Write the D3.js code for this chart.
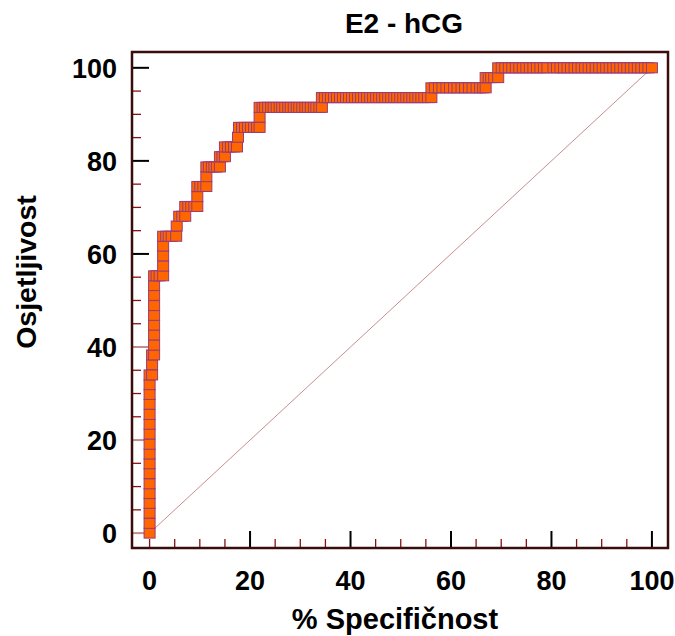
<!DOCTYPE html>
<html>
<head>
<meta charset="utf-8">
<script src="https://cdn.jsdelivr.net/npm/d3@7"></script>
<style>
  html, body { margin: 0; padding: 0; background: #fff; }
  svg { display: block; }
  text { font-family: "Liberation Sans", Arial, sans-serif; font-weight: bold; fill: #000; }
</style>
</head>
<body>
<svg id="chart" width="675" height="636"></svg>
<script>
// ---------------- data ----------------
const title = "E2 - hCG";
const xTitle = "% Specifičnost";
const yTitle = "Osjetljivost";

// sensitivity levels (%) of the ROC curve, bottom to top
const sensLevels = [
  0, 2.1, 4.3, 6.4, 8.5, 10.6, 12.8, 14.9, 17.0, 19.1, 21.3, 23.4, 25.5, 27.7, 29.8, 31.9,
  34.0, 36.2, 38.3, 40.4, 42.6, 44.7, 46.8, 48.9, 51.1, 53.2, 55.3, 57.4, 59.6, 61.7, 63.8,
  66.0, 68.1, 70.2, 72.3, 74.5, 76.6, 78.7, 80.9, 83.0, 85.1, 87.2, 89.4, 91.5, 93.6, 95.7,
  97.9, 100
];

// x positions (100 - specificity, %) of the ROC points at each sensitivity level
const xAtLevel = [
  [0], [0], [0], [0], [0], [0], [0], [0], [0], [0], [0], [0], [0], [0], [0], [0],
  [0, 0.5], [0.5], [0.5, 0.9], [0.9], [0.9], [0.9], [0.9], [0.9], [0.9], [0.9],
  [0.9, 1.4, 2.0, 2.7], [2.7], [2.7], [2.7],
  [2.7, 3.3, 3.8, 4.4, 5.3],
  [5.4],
  [5.9, 6.5, 7.1],
  [7.1, 7.7, 8.3, 8.9, 9.5],
  [9.5],
  [9.5, 10.1, 10.7, 11.3],
  [11.3],
  [11.3, 11.8, 12.4, 12.9, 13.4, 14.0],
  [14.0, 14.5, 15.0],
  [15.0, 15.6, 16.2, 16.8, 17.4],
  [17.6],
  [17.8, 18.4, 19.0, 19.6, 20.2, 20.8, 21.4, 21.9],
  [21.9],
  [21.9, 22.5, 23.0, 23.6, 24.2, 24.7, 25.3, 25.9, 26.4, 27.0, 27.6, 28.1, 28.7, 29.3, 29.8,
   30.4, 31.0, 31.5, 32.1, 32.7, 33.2, 33.8, 34.3],
  [34.3, 34.9, 35.5, 36.1, 36.7, 37.3, 37.9, 38.5, 39.1, 39.7, 40.3, 40.9, 41.5, 42.1, 42.7,
   43.3, 43.9, 44.5, 45.1, 45.7, 46.3, 46.9, 47.5, 48.1, 48.7, 49.3, 49.9, 50.5, 51.1, 51.7,
   52.3, 52.9, 53.5, 54.1, 54.7, 55.4, 56.1],
  [56.1, 56.8, 57.6, 58.3, 59.1, 59.8, 60.6, 61.3, 62.1, 62.8, 63.6, 64.3, 65.1, 65.8, 66.4, 66.9],
  [66.9, 67.5, 68.0, 68.6, 69.4],
  [69.4, 70.1, 70.8, 71.5, 72.2, 72.9, 73.6, 74.3, 75.0, 75.7, 76.4, 77.1, 77.8, 78.5, 79.2,
   80.4, 81.1, 81.8, 82.5, 83.2, 83.9, 84.6, 85.3, 86.0, 86.7, 87.4, 88.1, 88.8, 89.5, 90.2,
   90.9, 91.6, 92.3, 93.0, 93.7, 94.4, 95.1, 95.8, 96.5, 97.2, 97.9, 98.6, 99.3, 100.0]
];

// reference (chance) line
const diagX = [0, 100];
const diagY = [0, 100];

const majorTicks = [0, 20, 40, 60, 80, 100];
const minorTicks = [5, 10, 15, 25, 30, 35, 45, 50, 55, 65, 70, 75, 85, 90, 95];
const xTickLabels = ["0", "20", "40", "60", "80", "100"];
const yTickLabels = ["0", "20", "40", "60", "80", "100"];

// ---------------- drawing ----------------
const svg = d3.select("#chart");
const frame = { left: 132, right: 668, top: 52, bottom: 548 };

const x = d3.scaleLinear().domain([-3.5, 103.2]).range([frame.left, frame.right]);
const y = d3.scaleLinear().domain([-3.2, 103.4]).range([frame.bottom, frame.top]);

const points = [];
sensLevels.forEach((s, i) => xAtLevel[i].forEach(v => points.push({ x: v, y: s })));

// chance diagonal
svg.append("line")
  .attr("x1", x(diagX[0])).attr("y1", y(diagY[0]))
  .attr("x2", x(diagX[1])).attr("y2", y(diagY[1]))
  .attr("stroke", "#c98e8e").attr("stroke-width", 1);

// Y ticks (inside, from left frame)
svg.append("g").selectAll("line.ymin").data(minorTicks).join("line")
  .attr("x1", frame.left).attr("x2", frame.left + 9)
  .attr("y1", d => y(d)).attr("y2", d => y(d))
  .attr("stroke", "#8b1010").attr("stroke-width", 1.3);
svg.append("g").selectAll("line.ymaj").data(majorTicks).join("line")
  .attr("x1", frame.left).attr("x2", frame.left + 17)
  .attr("y1", d => y(d)).attr("y2", d => y(d))
  .attr("stroke", d => d < 60 ? "#c48c8c" : "#000").attr("stroke-width", 2);

// X ticks (inside, from bottom frame)
svg.append("g").selectAll("line.xmin").data(minorTicks).join("line")
  .attr("x1", d => x(d)).attr("x2", d => x(d))
  .attr("y1", frame.bottom).attr("y2", frame.bottom - 9)
  .attr("stroke", "#8b1010").attr("stroke-width", 1.3);
svg.append("g").selectAll("line.xmaj").data(majorTicks).join("line")
  .attr("x1", d => x(d)).attr("x2", d => x(d))
  .attr("y1", frame.bottom).attr("y2", d => frame.bottom - (d === 0 ? 9 : 17))
  .attr("stroke", d => d === 0 ? "#8b1010" : "#000").attr("stroke-width", d => d === 0 ? 1.3 : 2);

// ROC markers
const mw = 11, mh = 10;
svg.append("g").selectAll("rect").data(points).join("rect")
  .attr("x", d => x(d.x) - mw / 2)
  .attr("y", d => y(d.y) - mh / 2)
  .attr("width", mw).attr("height", mh)
  .attr("fill", "#ff6600")
  .attr("stroke", "#9a3a78").attr("stroke-width", 1);

// frame
svg.append("rect")
  .attr("x", frame.left).attr("y", frame.top)
  .attr("width", frame.right - frame.left).attr("height", frame.bottom - frame.top)
  .attr("fill", "none").attr("stroke", "#3a0c0c").attr("stroke-width", 2.5);

// tick labels
svg.append("g").selectAll("text").data(majorTicks).join("text")
  .attr("x", 117).attr("y", d => y(d) + 9.8)
  .attr("text-anchor", "end").attr("font-size", 27)
  .text((d, i) => yTickLabels[i]);
svg.append("g").selectAll("text").data(majorTicks).join("text")
  .attr("x", d => x(d)).attr("y", 590)
  .attr("text-anchor", "middle").attr("font-size", 27)
  .text((d, i) => xTickLabels[i]);

// titles
svg.append("text").attr("x", 404).attr("y", 33)
  .attr("text-anchor", "middle").attr("font-size", 28).text(title);
svg.append("text").attr("x", 395).attr("y", 629)
  .attr("text-anchor", "middle").attr("font-size", 29).text(xTitle);
svg.append("text")
  .attr("transform", "translate(36,272) rotate(-90)")
  .attr("text-anchor", "middle").attr("font-size", 28.5).text(yTitle);
</script>
</body>
</html>
